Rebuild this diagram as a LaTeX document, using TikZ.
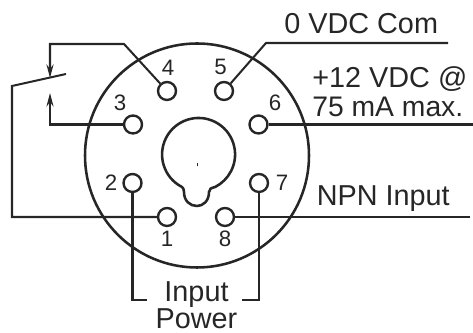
\documentclass[tikz,border=0pt]{standalone}
\usepackage{fontspec}
\setmainfont{Liberation Sans}
\usepackage{tikz}
\usetikzlibrary{arrows.meta}
\definecolor{inkdark}{HTML}{262626}
\tikzset{
    pin/.style={draw=inkdark, circle, line width=1.35pt, minimum size=0.36cm, inner sep=0pt},
    wire/.style={draw=inkdark, line width=1.15pt},
    tag/.style={inkdark, font=\fontsize{16.4}{18}\selectfont, inner sep=0pt, anchor=base west},
    pinno/.style={inkdark, font=\fontsize{12.7}{14}\selectfont, inner sep=0pt, anchor=base},
}
\begin{document}
\begin{tikzpicture}[x=0.02cm, y=-0.02cm, >={Stealth[length=0.27cm, width=0.14cm]}]
    \useasboundingbox (0,0) rectangle (473,333);
    % socket and key
    \draw [draw=inkdark, line width=1.45pt] (197,155.5) circle [radius=112];
    \draw [draw=inkdark, line width=1.45pt] (182,187) arc [start angle=117, end angle=423, radius=36.5]
        .. controls (211,188) and (209,189) .. (209,192)
        .. controls (209,201) and (203,206) .. (197,206)
        .. controls (190,206) and (184,201) .. (184,192)
        .. controls (184,189) and (183,188) .. (182,187);
    \draw [draw=inkdark, line width=0.5pt] (197,163.5) -- (197,166);
    % pins
    \node [pin] (pinOne) at (167,217) {};
    \node [pin] (pinTwo) at (132.5,183) {};
    \node [pin] (pinThree) at (133,124.5) {};
    \node [pin] (pinFour) at (167,91) {};
    \node [pin] (pinFive) at (224,91) {};
    \node [pin] (pinSix) at (258.5,124.5) {};
    \node [pin] (pinSeven) at (259,183) {};
    \node [pin] (pinEight) at (225,217) {};
    \node [pinno] (noOne) at (167,247) {1};
    \node [pinno] (noTwo) at (111,191) {2};
    \node [pinno] (noThree) at (120,111) {3};
    \node [pinno] (noFour) at (168,76) {4};
    \node [pinno] (noFive) at (220.5,75) {5};
    \node [pinno] (noSix) at (275,111) {6};
    \node [pinno] (noSeven) at (282,191) {7};
    \node [pinno] (noEight) at (225,247) {8};
    % switch
    \coordinate (topCorner) at (124,44);
    \coordinate (topLeft) at (50,44);
    \coordinate (topTip) at (50,78);
    \coordinate (lowCorner) at (50,124.5);
    \coordinate (lowTip) at (50,93);
    \coordinate (bladeEnd) at (66,74);
    \coordinate (bladeHinge) at (12,86);
    \coordinate (hingeLow) at (12,217);
    \draw [wire, ->] (pinFour) -- (topCorner) -- (topLeft) -- (topTip);
    \draw [wire, ->] (pinThree) -- (lowCorner) -- (lowTip);
    \draw [wire] (bladeEnd) -- (bladeHinge) -- (hingeLow) -- (pinOne);
    % outputs
    \coordinate (comCorner) at (266,43);
    \coordinate (comEnd) at (448,43);
    \coordinate (supplyEnd) at (473,124.5);
    \coordinate (npnEnd) at (470,217);
    \draw [wire] (pinFive) -- (comCorner) -- (comEnd);
    \draw [wire] (pinSix) -- (supplyEnd);
    \draw [wire] (pinEight) -- (npnEnd);
    \node [tag] (comLabel) at (284,34) {0 VDC Com};
    \node [tag] (supplyLabel) at (312,88) {+12 VDC @};
    \node [tag, font=\fontsize{16.1}{18}\selectfont] (maxLabel) at (312,117) {75 mA max.};
    \node [tag] (npnLabel) at (316.5,206) {NPN Input};
    % input power
    \coordinate (powerLeft) at (132.5,300);
    \coordinate (powerLeftEnd) at (147,300);
    \coordinate (powerRight) at (259,300);
    \coordinate (powerRightEnd) at (242,300);
    \draw [wire] (pinTwo) -- (powerLeft) -- (powerLeftEnd);
    \draw [wire] (pinSeven) -- (powerRight) -- (powerRightEnd);
    \node [tag, anchor=base] (inputLabel) at (196.5,302) {Input};
    \node [tag, anchor=base] (powerLabel) at (196.5,329) {Power};
\end{tikzpicture}
\end{document}
